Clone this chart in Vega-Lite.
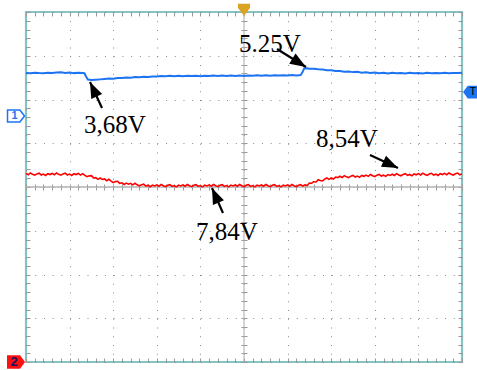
{
  "$schema": "https://vega.github.io/schema/vega-lite/v6.json",
  "width": 436,
  "height": 350,
  "autosize": {"type": "none"},
  "padding": {"left": 26, "top": 12, "right": 15, "bottom": 8},
  "background": "white",
  "config": {"view": {"stroke": "#84c4c4", "strokeWidth": 2.2}},
  "datasets": {
    "blue": [
      {"t":0.0,"v":2.606},{"t":0.1,"v":2.598},{"t":0.2,"v":2.612},{"t":0.3,"v":2.603},{"t":0.4,"v":2.598},{"t":0.5,"v":2.612},{"t":0.6,"v":2.604},{"t":0.7,"v":2.618},{"t":0.8,"v":2.622},{"t":0.9,"v":2.608},{"t":1.0,"v":2.618},{"t":1.1,"v":2.603},{"t":1.2,"v":2.612},{"t":1.3,"v":2.604},{"t":1.34,"v":2.6},{"t":1.38,"v":2.52},{"t":1.42,"v":2.455},{"t":1.5,"v":2.445},{"t":1.6,"v":2.452},{"t":1.7,"v":2.46},{"t":1.8,"v":2.468},{"t":1.9,"v":2.478},{"t":2.0,"v":2.476},{"t":2.1,"v":2.492},{"t":2.2,"v":2.494},{"t":2.3,"v":2.503},{"t":2.4,"v":2.5},{"t":2.5,"v":2.512},{"t":2.6,"v":2.51},{"t":2.7,"v":2.52},{"t":2.8,"v":2.516},{"t":2.9,"v":2.528},{"t":3.0,"v":2.524},{"t":3.1,"v":2.535},{"t":3.2,"v":2.53},{"t":3.3,"v":2.54},{"t":3.4,"v":2.534},{"t":3.5,"v":2.54},{"t":3.6,"v":2.532},{"t":3.7,"v":2.542},{"t":3.8,"v":2.536},{"t":3.9,"v":2.544},{"t":4.0,"v":2.534},{"t":4.1,"v":2.542},{"t":4.2,"v":2.536},{"t":4.3,"v":2.546},{"t":4.4,"v":2.54},{"t":4.5,"v":2.547},{"t":4.6,"v":2.538},{"t":4.7,"v":2.546},{"t":4.8,"v":2.54},{"t":4.9,"v":2.548},{"t":5.0,"v":2.54},{"t":5.1,"v":2.548},{"t":5.2,"v":2.542},{"t":5.3,"v":2.552},{"t":5.4,"v":2.545},{"t":5.5,"v":2.552},{"t":5.6,"v":2.544},{"t":5.7,"v":2.554},{"t":5.8,"v":2.548},{"t":5.9,"v":2.556},{"t":6.0,"v":2.55},{"t":6.1,"v":2.558},{"t":6.2,"v":2.55},{"t":6.3,"v":2.56},{"t":6.34,"v":2.62},{"t":6.38,"v":2.71},{"t":6.45,"v":2.715},{"t":6.5,"v":2.705},{"t":6.6,"v":2.702},{"t":6.7,"v":2.69},{"t":6.8,"v":2.684},{"t":6.9,"v":2.67},{"t":7.0,"v":2.668},{"t":7.1,"v":2.652},{"t":7.2,"v":2.65},{"t":7.3,"v":2.636},{"t":7.4,"v":2.642},{"t":7.5,"v":2.626},{"t":7.6,"v":2.632},{"t":7.7,"v":2.614},{"t":7.8,"v":2.622},{"t":7.9,"v":2.606},{"t":8.0,"v":2.616},{"t":8.1,"v":2.6},{"t":8.2,"v":2.612},{"t":8.3,"v":2.596},{"t":8.4,"v":2.61},{"t":8.5,"v":2.598},{"t":8.6,"v":2.608},{"t":8.7,"v":2.596},{"t":8.8,"v":2.61},{"t":8.9,"v":2.598},{"t":9.0,"v":2.606},{"t":9.1,"v":2.596},{"t":9.2,"v":2.61},{"t":9.3,"v":2.6},{"t":9.4,"v":2.606},{"t":9.5,"v":2.598},{"t":9.6,"v":2.61},{"t":9.7,"v":2.6},{"t":9.8,"v":2.608},{"t":9.9,"v":2.604},{"t":10.0,"v":2.612}
    ],
    "red": [
      {"t":0.0,"v":0.31},{"t":0.05,"v":0.28},{"t":0.1,"v":0.32},{"t":0.15,"v":0.29},{"t":0.2,"v":0.27},{"t":0.25,"v":0.3},{"t":0.3,"v":0.315},{"t":0.35,"v":0.275},{"t":0.4,"v":0.295},{"t":0.45,"v":0.265},{"t":0.5,"v":0.305},{"t":0.55,"v":0.285},
      {"t":0.6,"v":0.31},{"t":0.65,"v":0.28},{"t":0.7,"v":0.32},{"t":0.75,"v":0.29},{"t":0.8,"v":0.27},{"t":0.85,"v":0.3},{"t":0.9,"v":0.315},{"t":0.95,"v":0.275},{"t":1.0,"v":0.295},{"t":1.05,"v":0.265},{"t":1.1,"v":0.305},{"t":1.15,"v":0.285},
      {"t":1.2,"v":0.31},{"t":1.25,"v":0.2725},{"t":1.3,"v":0.305},{"t":1.35,"v":0.265},{"t":1.4,"v":0.235},{"t":1.45,"v":0.255},{"t":1.5,"v":0.26},{"t":1.55,"v":0.2075},{"t":1.6,"v":0.215},{"t":1.65,"v":0.175},{"t":1.7,"v":0.205},{"t":1.75,"v":0.1725},
      {"t":1.8,"v":0.185},{"t":1.85,"v":0.145},{"t":1.9,"v":0.175},{"t":1.95,"v":0.1325},{"t":2.0,"v":0.1},{"t":2.05,"v":0.1225},{"t":2.1,"v":0.13},{"t":2.15,"v":0.0825},{"t":2.2,"v":0.095},{"t":2.25,"v":0.0575},{"t":2.3,"v":0.09},{"t":2.35,"v":0.065},
      {"t":2.4,"v":0.085},{"t":2.45,"v":0.05},{"t":2.5,"v":0.085},{"t":2.55,"v":0.05},{"t":2.6,"v":0.025},{"t":2.65,"v":0.0525},{"t":2.7,"v":0.065},{"t":2.75,"v":0.0225},{"t":2.8,"v":0.04},{"t":2.85,"v":0.0065},{"t":2.9,"v":0.043},{"t":2.95,"v":0.023},
      {"t":3.0,"v":0.048},{"t":3.05,"v":0.018},{"t":3.1,"v":0.058},{"t":3.15,"v":0.028},{"t":3.2,"v":0.008},{"t":3.25,"v":0.038},{"t":3.3,"v":0.053},{"t":3.35,"v":0.013},{"t":3.4,"v":0.033},{"t":3.45,"v":0.003},{"t":3.5,"v":0.043},{"t":3.55,"v":0.023},
      {"t":3.6,"v":0.048},{"t":3.65,"v":0.018},{"t":3.7,"v":0.058},{"t":3.75,"v":0.028},{"t":3.8,"v":0.008},{"t":3.85,"v":0.038},{"t":3.9,"v":0.053},{"t":3.95,"v":0.013},{"t":4.0,"v":0.033},{"t":4.05,"v":0.003},{"t":4.1,"v":0.043},{"t":4.15,"v":0.023},
      {"t":4.2,"v":0.048},{"t":4.25,"v":0.018},{"t":4.3,"v":0.058},{"t":4.35,"v":0.028},{"t":4.4,"v":0.008},{"t":4.45,"v":0.038},{"t":4.5,"v":0.053},{"t":4.55,"v":0.013},{"t":4.6,"v":0.033},{"t":4.65,"v":0.003},{"t":4.7,"v":0.043},{"t":4.75,"v":0.023},
      {"t":4.8,"v":0.048},{"t":4.85,"v":0.018},{"t":4.9,"v":0.058},{"t":4.95,"v":0.028},{"t":5.0,"v":0.008},{"t":5.05,"v":0.038},{"t":5.1,"v":0.053},{"t":5.15,"v":0.013},{"t":5.2,"v":0.033},{"t":5.25,"v":0.003},{"t":5.3,"v":0.043},{"t":5.35,"v":0.023},
      {"t":5.4,"v":0.048},{"t":5.45,"v":0.018},{"t":5.5,"v":0.058},{"t":5.55,"v":0.028},{"t":5.6,"v":0.008},{"t":5.65,"v":0.038},{"t":5.7,"v":0.053},{"t":5.75,"v":0.013},{"t":5.8,"v":0.033},{"t":5.85,"v":0.003},{"t":5.9,"v":0.043},{"t":5.95,"v":0.023},
      {"t":6.0,"v":0.048},{"t":6.05,"v":0.018},{"t":6.1,"v":0.058},{"t":6.15,"v":0.028},{"t":6.2,"v":0.008},{"t":6.25,"v":0.038},{"t":6.3,"v":0.053},{"t":6.35,"v":0.0215},{"t":6.4,"v":0.05},{"t":6.45,"v":0.035},{"t":6.5,"v":0.09},{"t":6.55,"v":0.085},
      {"t":6.6,"v":0.125},{"t":6.65,"v":0.11},{"t":6.7,"v":0.165},{"t":6.75,"v":0.1475},{"t":6.8,"v":0.14},{"t":6.85,"v":0.18},{"t":6.9,"v":0.205},{"t":6.95,"v":0.175},{"t":7.0,"v":0.205},{"t":7.05,"v":0.181},{"t":7.1,"v":0.2275},{"t":7.15,"v":0.214},
      {"t":7.2,"v":0.245},{"t":7.25,"v":0.2175},{"t":7.3,"v":0.26},{"t":7.35,"v":0.2325},{"t":7.4,"v":0.215},{"t":7.45,"v":0.2475},{"t":7.5,"v":0.265},{"t":7.55,"v":0.227},{"t":7.6,"v":0.249},{"t":7.65,"v":0.221},{"t":7.7,"v":0.263},{"t":7.75,"v":0.245},
      {"t":7.8,"v":0.272},{"t":7.85,"v":0.244},{"t":7.9,"v":0.286},{"t":7.95,"v":0.258},{"t":8.0,"v":0.24},{"t":8.05,"v":0.2715},{"t":8.1,"v":0.288},{"t":8.15,"v":0.2495},{"t":8.2,"v":0.271},{"t":8.25,"v":0.2425},{"t":8.3,"v":0.284},{"t":8.35,"v":0.2655},
      {"t":8.4,"v":0.292},{"t":8.45,"v":0.2635},{"t":8.5,"v":0.305},{"t":8.55,"v":0.276},{"t":8.6,"v":0.257},{"t":8.65,"v":0.288},{"t":8.7,"v":0.304},{"t":8.75,"v":0.265},{"t":8.8,"v":0.286},{"t":8.85,"v":0.257},{"t":8.9,"v":0.298},{"t":8.95,"v":0.279},
      {"t":9.0,"v":0.305},{"t":9.05,"v":0.2755},{"t":9.1,"v":0.316},{"t":9.15,"v":0.2865},{"t":9.2,"v":0.267},{"t":9.25,"v":0.2975},{"t":9.3,"v":0.313},{"t":9.35,"v":0.2735},{"t":9.4,"v":0.294},{"t":9.45,"v":0.2645},{"t":9.5,"v":0.305},{"t":9.55,"v":0.2855},
      {"t":9.6,"v":0.311},{"t":9.65,"v":0.2815},{"t":9.7,"v":0.322},{"t":9.75,"v":0.2925},{"t":9.8,"v":0.273},{"t":9.85,"v":0.3035},{"t":9.9,"v":0.319},{"t":9.95,"v":0.2795},{"t":10.0,"v":0.3}
    ],
    "arrows": [
      {"x":1.743,"y":1.806,"x2":1.468,"y2":2.4},
      {"x":5.757,"y":3.154,"x2":6.422,"y2":2.743},
      {"x":7.89,"y":0.731,"x2":8.532,"y2":0.434},
      {"x":4.518,"y":-0.594,"x2":4.266,"y2":-0.023}
    ],
    "labels": [
      {"x":1.33,"y":1.234,"text":"3,68V"},
      {"x":4.885,"y":3.086,"text":"5.25V"},
      {"x":6.651,"y":0.914,"text":"8,54V"},
      {"x":3.899,"y":-1.211,"text":"7,84V"}
    ]
  },
  "resolve": {"axis": {"x": "independent", "y": "independent"}},
  "layer": [
    {
      "data": {"values": [{}]},
      "mark": {"type": "rule", "color": "#aaaaaa", "strokeWidth": 1},
      "encoding": {"x": {"datum": 5, "type": "quantitative", "scale": {"domain": [0, 10], "nice": false, "zero": false}, "axis": null}}
    },
    {
      "data": {"values": [{}]},
      "mark": {"type": "rule", "color": "#b0b0b0", "strokeWidth": 1.5},
      "encoding": {"y": {"datum": 0, "type": "quantitative", "scale": {"domain": [-4, 4], "nice": false, "zero": false}, "axis": null}}
    },
    {
      "data": {"name": "red"},
      "mark": {"type": "line", "color": "#ff0000", "strokeWidth": 1.6},
      "encoding": {
        "x": {"field": "t", "type": "quantitative", "axis": {"orient": "bottom", "values": [0,0.2,0.4,0.6,0.8,1,1.2,1.4,1.6,1.8,2,2.2,2.4,2.6,2.8,3,3.2,3.4,3.6,3.8,4,4.2,4.4,4.6,4.8,5,5.2,5.4,5.6,5.8,6,6.2,6.4,6.6,6.8,7,7.2,7.4,7.6,7.8,8,8.2,8.4,8.6,8.8,9,9.2,9.4,9.6,9.8,10], "grid": false, "ticks": true, "tickSize": 4, "offset": -4, "tickColor": "#999999", "labels": false, "domain": false, "title": null}},
        "y": {"field": "v", "type": "quantitative", "axis": {"orient": "left", "values": [-4,-3.8,-3.6,-3.4,-3.2,-3,-2.8,-2.6,-2.4,-2.2,-2,-1.8,-1.6,-1.4,-1.2,-1,-0.8,-0.6,-0.4,-0.2,0,0.2,0.4,0.6,0.8,1,1.2,1.4,1.6,1.8,2,2.2,2.4,2.6,2.8,3,3.2,3.4,3.6,3.8,4], "grid": false, "ticks": true, "tickSize": 4, "offset": -4, "tickColor": "#999999", "labels": false, "domain": false, "title": null}}
      }
    },
    {
      "data": {"name": "blue"},
      "mark": {"type": "line", "color": "#1c74f2", "strokeWidth": 2},
      "encoding": {
        "x": {"field": "t", "type": "quantitative", "axis": {"orient": "bottom", "values": [0,1,2,3,4,5,6,7,8,9,10], "grid": true, "gridColor": "#8a8a8a", "gridDash": [1, 7.75], "gridWidth": 1, "ticks": false, "labels": false, "domain": false, "title": null}},
        "y": {"field": "v", "type": "quantitative", "axis": {"orient": "left", "values": [-4,-3,-2,-1,0,1,2,3,4], "grid": true, "gridColor": "#8a8a8a", "gridDash": [1, 7.72], "gridWidth": 1, "ticks": false, "labels": false, "domain": false, "title": null}}
      }
    },
    {
      "data": {"name": "arrows"},
      "mark": {"type": "rule", "color": "black", "strokeWidth": 2.2},
      "encoding": {
        "x": {"field": "x", "type": "quantitative", "axis": {"orient": "top", "values": [0,0.2,0.4,0.6,0.8,1,1.2,1.4,1.6,1.8,2,2.2,2.4,2.6,2.8,3,3.2,3.4,3.6,3.8,4,4.2,4.4,4.6,4.8,5,5.2,5.4,5.6,5.8,6,6.2,6.4,6.6,6.8,7,7.2,7.4,7.6,7.8,8,8.2,8.4,8.6,8.8,9,9.2,9.4,9.6,9.8,10], "grid": false, "ticks": true, "tickSize": 4, "offset": -4, "tickColor": "#999999", "labels": false, "domain": false, "title": null}},
        "y": {"field": "y", "type": "quantitative", "axis": {"orient": "right", "values": [-4,-3.8,-3.6,-3.4,-3.2,-3,-2.8,-2.6,-2.4,-2.2,-2,-1.8,-1.6,-1.4,-1.2,-1,-0.8,-0.6,-0.4,-0.2,0,0.2,0.4,0.6,0.8,1,1.2,1.4,1.6,1.8,2,2.2,2.4,2.6,2.8,3,3.2,3.4,3.6,3.8,4], "grid": false, "ticks": true, "tickSize": 4, "offset": -4, "tickColor": "#999999", "labels": false, "domain": false, "title": null}},
        "x2": {"field": "x2"},
        "y2": {"field": "y2"}
      }
    },
    {
      "data": {"name": "arrows"},
      "transform": [{"calculate": "atan2((datum.x2 - datum.x) * 43.6, (datum.y2 - datum.y) * 43.75) * 180 / PI", "as": "angle"}],
      "mark": {"type": "point", "filled": true, "color": "black", "opacity": 1, "size": 400, "shape": "M0,0L0.6,1.6L-0.6,1.6Z", "strokeWidth": 0},
      "encoding": {
        "x": {"field": "x2", "type": "quantitative", "axis": {"orient": "bottom", "values": [0,0.2,0.4,0.6,0.8,1,1.2,1.4,1.6,1.8,2,2.2,2.4,2.6,2.8,3,3.2,3.4,3.6,3.8,4,4.2,4.4,4.6,4.8,5,5.2,5.4,5.6,5.8,6,6.2,6.4,6.6,6.8,7,7.2,7.4,7.6,7.8,8,8.2,8.4,8.6,8.8,9,9.2,9.4,9.6,9.8,10], "grid": false, "ticks": true, "tickSize": 6, "offset": -178, "tickColor": "#999999", "labels": false, "domain": false, "title": null}},
        "y": {"field": "y2", "type": "quantitative", "axis": {"orient": "left", "values": [-4,-3.8,-3.6,-3.4,-3.2,-3,-2.8,-2.6,-2.4,-2.2,-2,-1.8,-1.6,-1.4,-1.2,-1,-0.8,-0.6,-0.4,-0.2,0,0.2,0.4,0.6,0.8,1,1.2,1.4,1.6,1.8,2,2.2,2.4,2.6,2.8,3,3.2,3.4,3.6,3.8,4], "grid": false, "ticks": true, "tickSize": 6, "offset": -221, "tickColor": "#999999", "labels": false, "domain": false, "title": null}},
        "angle": {"field": "angle", "type": "quantitative", "scale": null}
      }
    },
    {
      "data": {"name": "labels"},
      "mark": {"type": "text", "font": "Liberation Serif", "fontSize": 25, "color": "black", "align": "left", "baseline": "alphabetic"},
      "encoding": {
        "x": {"field": "x", "type": "quantitative", "axis": null},
        "y": {"field": "y", "type": "quantitative", "axis": null},
        "text": {"field": "text"}
      }
    },
    {
      "data": {"values": [{"x": -0.229, "y": 1.623, "id": "1"}]},
      "mark": {"type": "point", "filled": false, "color": "#1c74f2", "strokeWidth": 1.5, "opacity": 1, "size": 289, "shape": "M-1,-0.7L0.45,-0.7L1,0L0.45,0.7L-1,0.7Z", "clip": false},
      "encoding": {"x": {"field": "x", "type": "quantitative", "axis": null}, "y": {"field": "y", "type": "quantitative", "axis": null}}
    },
    {
      "data": {"values": [{"x": -0.26, "y": 1.623, "id": "1"}]},
      "mark": {"type": "text", "font": "Liberation Sans", "fontWeight": "bold", "fontSize": 11, "color": "#1c74f2", "align": "center", "baseline": "middle"},
      "encoding": {"x": {"field": "x", "type": "quantitative", "axis": null}, "y": {"field": "y", "type": "quantitative", "axis": null}, "text": {"field": "id"}}
    },
    {
      "data": {"values": [{"x": -0.229, "y": -4, "id": "2"}]},
      "mark": {"type": "point", "filled": true, "color": "#ff1010", "strokeWidth": 0, "opacity": 1, "size": 324, "shape": "M-1,-0.75L0.45,-0.75L1,0L0.45,0.75L-1,0.75Z", "clip": false},
      "encoding": {"x": {"field": "x", "type": "quantitative", "axis": null}, "y": {"field": "y", "type": "quantitative", "axis": null}}
    },
    {
      "data": {"values": [{"x": -0.27, "y": -4, "id": "2"}]},
      "mark": {"type": "text", "font": "Liberation Sans", "fontWeight": "bold", "fontSize": 13, "color": "#151560", "align": "center", "baseline": "middle"},
      "encoding": {"x": {"field": "x", "type": "quantitative", "axis": null}, "y": {"field": "y", "type": "quantitative", "axis": null}, "text": {"field": "id"}}
    },
    {
      "data": {"values": [{"x": 10.22, "y": 2.171, "id": "T"}]},
      "mark": {"type": "point", "filled": true, "color": "#1c74f2", "strokeWidth": 0, "opacity": 1, "size": 289, "shape": "M1,-0.75L-0.45,-0.75L-1,0L-0.45,0.75L1,0.75Z", "clip": false},
      "encoding": {"x": {"field": "x", "type": "quantitative", "axis": null}, "y": {"field": "y", "type": "quantitative", "axis": null}}
    },
    {
      "data": {"values": [{"x": 10.25, "y": 2.171, "id": "T"}]},
      "mark": {"type": "text", "font": "Liberation Sans", "fontSize": 11, "color": "black", "align": "center", "baseline": "middle"},
      "encoding": {"x": {"field": "x", "type": "quantitative", "axis": null}, "y": {"field": "y", "type": "quantitative", "axis": null}, "text": {"field": "id"}}
    },
    {
      "data": {"values": [{"x": 5, "y": 4.05}]},
      "mark": {"type": "point", "filled": true, "color": "#dba322", "strokeWidth": 0, "opacity": 1, "size": 144, "shape": "M-1,-1L1,-1L1,-0.3L0,1L-1,-0.3Z", "clip": false},
      "encoding": {"x": {"field": "x", "type": "quantitative", "axis": null}, "y": {"field": "y", "type": "quantitative", "axis": null}}
    }
  ]
}
